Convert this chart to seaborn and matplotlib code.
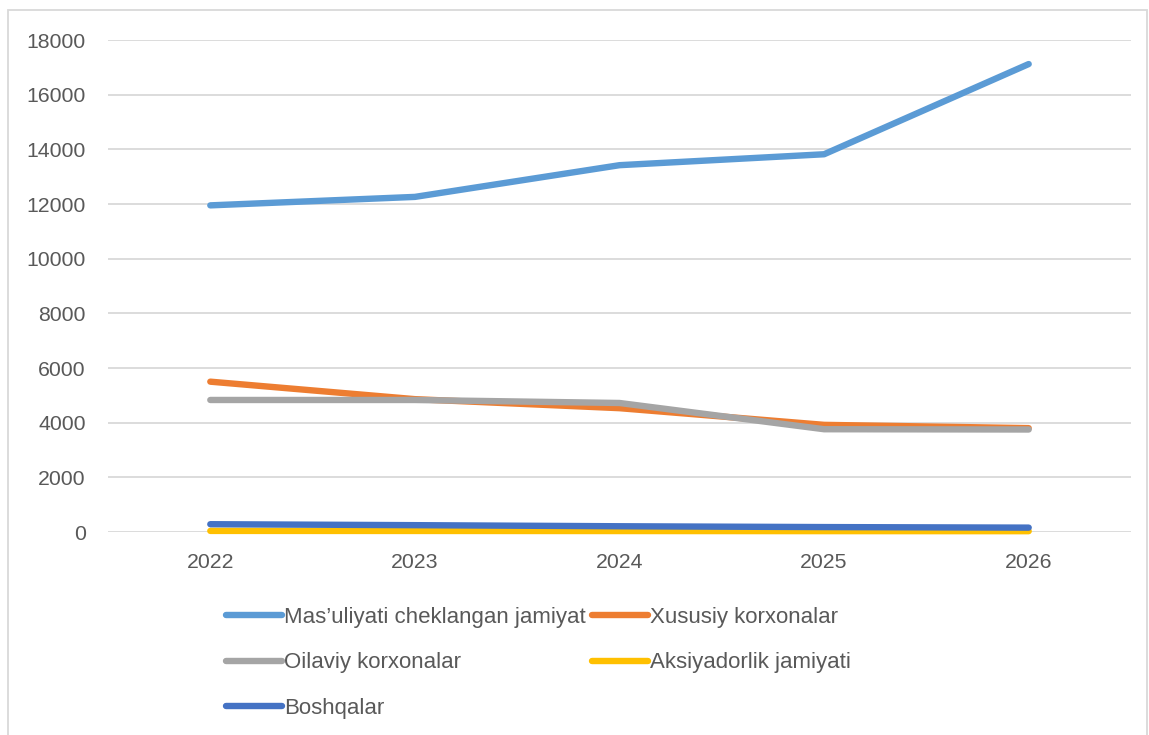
import matplotlib
matplotlib.use("Agg")
import matplotlib.pyplot as plt
import matplotlib.patches as mpatches
import seaborn as sns
import pandas as pd

years = [2022, 2023, 2024, 2025, 2026]
series_names = [
    "Mas\u2019uliyati cheklangan jamiyat",
    "Xususiy korxonalar",
    "Oilaviy korxonalar",
    "Aksiyadorlik jamiyati",
    "Boshqalar",
]
mchj = [11950, 12260, 13420, 13820, 17120]
xususiy = [5500, 4860, 4530, 3920, 3800]
oilaviy = [4830, 4830, 4720, 3760, 3750]
aksiyadorlik = [40, 38, 35, 32, 30]
boshqalar = [285, 250, 210, 180, 160]
colors = ["#5B9BD5", "#ED7D31", "#A5A5A5", "#FFC000", "#4472C4"]
yticks = [0, 2000, 4000, 6000, 8000, 10000, 12000, 14000, 16000, 18000]

values = [mchj, xususiy, oilaviy, aksiyadorlik, boshqalar]
rows = []
for name, vals in zip(series_names, values):
    for y, v in zip(years, vals):
        rows.append({"year": y, "value": v, "series": name})
df = pd.DataFrame(rows)

sns.set_theme(style="white")
plt.rcParams["font.family"] = ["Liberation Sans", "DejaVu Sans"]

fig = plt.figure(figsize=(11.49, 7.35), dpi=100)
ax = fig.add_axes([108 / 1149, 1 - 532 / 735, (1131 - 108) / 1149, (532 - 40) / 735])

sns.lineplot(data=df, x="year", y="value", hue="series", hue_order=series_names,
             palette=colors, linewidth=4.6, ax=ax, legend=False, sort=False,
             solid_capstyle="round", solid_joinstyle="round")
for ln in ax.get_lines():
    ln.set_clip_on(False)

ax.set_xlim(2021.5, 2026.5)
ax.set_ylim(0, 18000)
ax.set_xticks(years)
ax.set_xticklabels([str(y) for y in years])
ax.set_yticks(yticks)
ax.set_yticklabels([str(t) for t in yticks])
ax.set_xlabel("")
ax.set_ylabel("")
for s in ax.spines.values():
    s.set_visible(False)
ax.yaxis.grid(True, color="#D9D9D9", linewidth=1.3)
ax.xaxis.grid(False)
ax.set_axisbelow(True)
ax.tick_params(axis="both", length=0, labelsize=15.3, labelcolor="#595959")
ax.tick_params(axis="y", pad=16)
ax.tick_params(axis="x", pad=15)

# Legend (Excel row-wise order -> column-major reorder)
handles = [plt.Line2D([], [], color=c, linewidth=4.6, solid_capstyle="round") for c in colors]
order = [0, 2, 4, 1, 3]
leg = fig.legend([handles[i] for i in order], [series_names[i] for i in order],
                 loc="upper left", bbox_to_anchor=(226 / 1149, 1 - 607 / 735),
                 ncol=2, frameon=False, fontsize=16, handlelength=2.5,
                 handletextpad=0.1, columnspacing=0.3, labelspacing=1.1,
                 borderaxespad=0, borderpad=0)
for t in leg.get_texts():
    t.set_color("#595959")

# chart area border
border = mpatches.Rectangle((8 / 1149, -0.05), (1147 - 8) / 1149, 1.05 - 10 / 735,
                            transform=fig.transFigure, fill=False,
                            edgecolor="#D9D9D9", linewidth=1.3)
fig.patches.append(border)

fig.savefig("out.png", dpi=100, facecolor="white")
